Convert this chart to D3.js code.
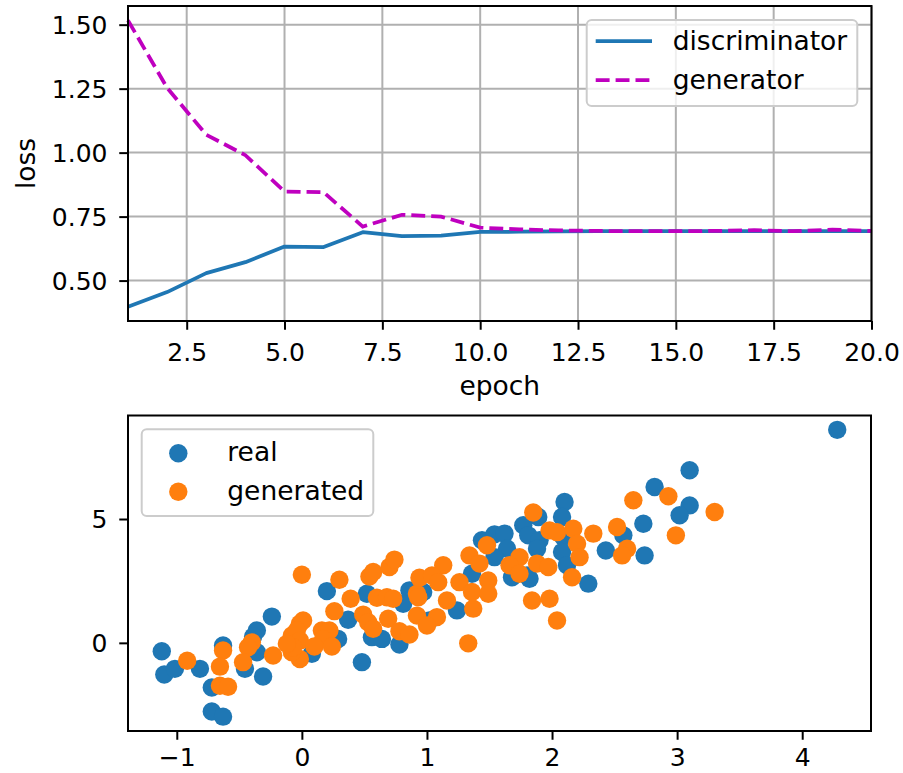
<!DOCTYPE html>
<html><head><meta charset="utf-8">
<script src="https://cdn.jsdelivr.net/npm/d3@7"></script>
<style>body{margin:0;background:#fff;overflow:hidden} text{font-family:"DejaVu Sans",sans-serif}</style>
</head><body><svg id="c" width="903" height="773"></svg>
<script>
// ---------- data: loss curves ----------
const epochs = [1,2,3,4,5,6,7,8,9,10,11,12,13,14,15,16,17,18,19,20];
const discLoss = [0.398,0.455,0.529,0.572,0.633,0.631,0.689,0.674,0.676,0.690,0.691,0.692,0.693,0.693,0.693,0.693,0.693,0.693,0.693,0.693];
const genLoss  = [1.517,1.253,1.070,0.990,0.848,0.845,0.711,0.757,0.750,0.707,0.700,0.696,0.694,0.693,0.693,0.694,0.697,0.693,0.699,0.694];
const epochTicks = [2.5,5,7.5,10,12.5,15,17.5,20];
const lossTicks = [0.5,0.75,1.0,1.25,1.5];
const lossSeries = ["discriminator","generator"];

// ---------- data: scatter ----------
const realX = [-1.12,-1.10,-1.015,-0.815,-0.72,-0.72,-0.63,-0.63,-0.24,-0.36,-0.39,-0.36,-0.455,-0.31,-0.08,
  0.20,0.52,0.37,0.29,0.56,0.64,0.78,0.86,0.81,0.08,0.48,
  1.44,1.54,1.62,1.77,1.81,1.64,1.54,1.36,1.24,1.68,1.80,0.97,1.02,
  2.10,2.08,1.89,1.90,1.88,2.09,2.08,2.12,2.29,2.43,2.57,2.73,2.74,1.82,
  2.82,3.10,3.10,3.02,4.28];
const realY = [-0.34,-1.28,-1.05,-1.05,-1.80,-2.77,-2.98,-0.11,1.06,0.50,0.25,-0.38,-1.05,-1.36,-0.03,
  2.09,1.98,0.93,0.16,0.23,0.16,-0.07,2.12,1.58,-0.44,-0.78,
  4.14,4.38,4.41,4.75,4.34,3.80,3.46,2.79,1.31,2.65,2.72,2.05,0.90,
  5.69,5.08,5.08,4.14,3.80,4.27,3.67,3.13,2.39,3.73,4.34,4.81,3.53,2.59,
  6.29,6.97,5.55,5.15,8.60];
const genX = [-0.917,-0.63,-0.655,-0.655,-0.59,-0.40,-0.43,-0.47,-0.23,-0.08,-0.016,-0.016,-0.08,
  0.00,0.30,0.54,0.57,0.70,0.74,0.39,0.26,0.60,0.68,0.73,0.49,0.53,0.57,0.69,0.78,0.86,0.92,0.92,0.94,
  0.01,-0.04,-0.016,-0.07,-0.12,0.16,0.22,0.17,0.10,0.24,
  1.48,1.34,1.42,1.74,1.66,1.74,1.88,1.84,1.13,1.04,1.09,1.26,1.49,1.36,1.49,1.16,0.93,1.37,1.08,1.00,1.33,
  1.85,1.98,2.04,2.17,2.20,2.22,2.33,2.52,2.65,2.60,2.56,1.97,2.16,1.98,2.04,
  2.93,3.30,2.99];
const genY = [-0.72,-0.31,-0.96,-1.73,-1.77,0.02,-0.18,-0.78,-0.51,0.30,0.77,-0.65,-0.38,
  2.75,2.55,2.68,2.86,3.06,3.36,1.78,1.28,1.82,1.84,1.78,1.14,0.83,0.57,0.97,0.47,0.34,1.10,1.98,2.63,
  0.90,0.50,0.09,-0.18,-0.04,0.50,0.50,0.16,-0.15,-0.15,
  3.94,3.53,3.20,3.46,3.13,2.79,3.20,1.71,3.13,2.72,2.45,2.45,2.52,2.05,1.98,1.71,1.84,1.38,1.04,0.70,-0.02,
  5.26,4.54,4.47,4.61,4.00,3.46,4.41,4.68,5.76,3.80,3.53,3.06,2.65,1.78,0.90,
  5.92,5.28,4.34];
const scatterXTicks = [-1,0,1,2,3,4];
const scatterYTicks = [0,5];
const scatterSeries = ["real","generated"];

// ---------- styling ----------
const FS = 25;      // tick labels
const FL = 26.5;    // axis labels & legend
const GRID = "#b0b0b0";
const C_BLUE = "#1f77b4", C_ORANGE = "#ff7f0e", C_MAG = "#bf00bf";
const svg = d3.select("#c");

function pad(lo, hi){ const r = hi - lo; return [lo - 0.05*r, hi + 0.05*r]; }

function styleAxis(g){
  g.select(".domain").remove();
  g.selectAll(".tick line").attr("stroke","#000").attr("stroke-width",2);
  g.selectAll(".tick text").attr("fill","#000").attr("font-size",FS);
}

// ================= TOP: loss =================
{
  const L=128, R=871.5, T=6, B=321;
  const x = d3.scaleLinear().domain([epochs[0], epochs[epochs.length-1]]).range([L,R]);
  const allLoss = discLoss.concat(genLoss);
  const y = d3.scaleLinear().domain(pad(d3.min(allLoss), d3.max(allLoss))).range([B,T]);
  const g = svg.append("g");
  g.append("g").selectAll("line").data(epochTicks).join("line")
    .attr("x1",d=>x(d)).attr("x2",d=>x(d)).attr("y1",T).attr("y2",B)
    .attr("stroke",GRID).attr("stroke-width",2);
  g.append("g").selectAll("line").data(lossTicks).join("line")
    .attr("x1",L).attr("x2",R).attr("y1",d=>y(d)).attr("y2",d=>y(d))
    .attr("stroke",GRID).attr("stroke-width",2);
  const line = vals => d3.line().x((d,i)=>x(epochs[i])).y(d=>y(d))(vals);
  g.append("path").attr("d",line(discLoss)).attr("fill","none").attr("stroke",C_BLUE).attr("stroke-width",3.75).attr("stroke-linejoin","round");
  g.append("path").attr("d",line(genLoss)).attr("fill","none").attr("stroke",C_MAG).attr("stroke-width",3.75).attr("stroke-dasharray","13.9,6");
  const ax = g.append("g").attr("transform",`translate(0,${B})`)
    .call(d3.axisBottom(x).tickValues(epochTicks).tickFormat(d3.format(".1f")).tickSize(8.75));
  styleAxis(ax); ax.selectAll(".tick text").attr("y",39.7).attr("dy",null);
  const ay = g.append("g").attr("transform",`translate(${L},0)`)
    .call(d3.axisLeft(y).tickValues(lossTicks).tickFormat(d3.format(".2f")).tickSize(8.75));
  styleAxis(ay); ay.selectAll(".tick text").attr("x",-20.5).attr("dy","0.35em");
  g.append("rect").attr("x",L).attr("y",T).attr("width",R-L).attr("height",B-T)
    .attr("fill","none").attr("stroke","#000").attr("stroke-width",2);
  g.append("text").attr("x",(L+R)/2).attr("y",395).attr("text-anchor","middle").attr("font-size",FL).text("epoch");
  g.append("text").attr("transform",`translate(35,${(T+B)/2}) rotate(-90)`).attr("text-anchor","middle").attr("font-size",FL).text("loss");
  const lg = g.append("g");
  lg.append("rect").attr("x",586.7).attr("y",20).attr("width",270.6).attr("height",86).attr("rx",5)
    .attr("fill","rgba(255,255,255,0.8)").attr("stroke","#cccccc").attr("stroke-width",2);
  const cols=[C_BLUE,C_MAG], dashes=[null,"13.9,6"], ly=[41,80];
  lossSeries.forEach((s,i)=>{
    lg.append("line").attr("x1",595.7).attr("x2",652).attr("y1",ly[i]).attr("y2",ly[i])
      .attr("stroke",cols[i]).attr("stroke-width",3.75).attr("stroke-dasharray",dashes[i]);
    lg.append("text").attr("x",672.7).attr("y",ly[i]+9).attr("font-size",FL).text(s);
  });
}

// ================= BOTTOM: scatter =================
{
  const L=128, R=871, T=415.5, B=731;
  const allX = realX.concat(genX), allY = realY.concat(genY);
  const x = d3.scaleLinear().domain(pad(d3.min(allX), d3.max(allX))).range([L,R]);
  const y = d3.scaleLinear().domain(pad(d3.min(allY), d3.max(allY))).range([B,T]);
  const g = svg.append("g");
  g.append("g").selectAll("circle").data(realX).join("circle")
    .attr("cx",d=>x(d)).attr("cy",(d,i)=>y(realY[i])).attr("r",9.2).attr("fill",C_BLUE);
  g.append("g").selectAll("circle").data(genX).join("circle")
    .attr("cx",d=>x(d)).attr("cy",(d,i)=>y(genY[i])).attr("r",9.2).attr("fill",C_ORANGE);
  const ax = g.append("g").attr("transform",`translate(0,${B})`)
    .call(d3.axisBottom(x).tickValues(scatterXTicks).tickFormat(d3.format("d")).tickSize(8.75));
  styleAxis(ax); ax.selectAll(".tick text").attr("y",34.5).attr("dy",null);
  const ay = g.append("g").attr("transform",`translate(${L},0)`)
    .call(d3.axisLeft(y).tickValues(scatterYTicks).tickFormat(d3.format("d")).tickSize(8.75));
  styleAxis(ay); ay.selectAll(".tick text").attr("x",-20.5).attr("dy","0.35em");
  g.append("rect").attr("x",L).attr("y",T).attr("width",R-L).attr("height",B-T)
    .attr("fill","none").attr("stroke","#000").attr("stroke-width",2);
  const lg = g.append("g");
  lg.append("rect").attr("x",141.7).attr("y",429.3).attr("width",231.6).attr("height",86.7).attr("rx",5)
    .attr("fill","rgba(255,255,255,0.8)").attr("stroke","#cccccc").attr("stroke-width",2);
  const cols=[C_BLUE,C_ORANGE], ly=[453.3,491.7];
  scatterSeries.forEach((s,i)=>{
    lg.append("circle").attr("cx",178.3).attr("cy",ly[i]).attr("r",9.2).attr("fill",cols[i]);
    lg.append("text").attr("x",227.3).attr("y",ly[i]+8).attr("font-size",FL).text(s);
  });
}
</script></body></html>
